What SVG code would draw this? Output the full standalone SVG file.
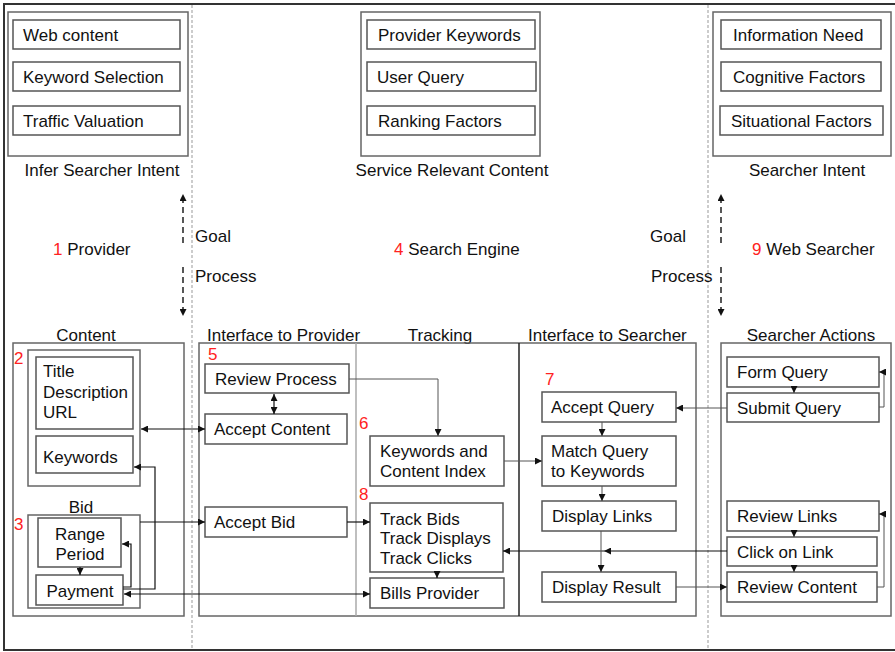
<svg xmlns="http://www.w3.org/2000/svg" width="895" height="652" viewBox="0 0 895 652">
<defs>
<style>
text{font-family:"Liberation Sans",Arial,sans-serif;font-size:17px;fill:#111}
.red{fill:#f22}
.box{fill:#fff;stroke:#555;stroke-width:1.5}
.grp{fill:none;stroke:#666;stroke-width:1.5}
.c{fill:none;stroke:#111;stroke-width:1.2}
.g{fill:none;stroke:#555;stroke-width:1}
.dash{fill:none;stroke:#111;stroke-width:1.4;stroke-dasharray:6,4}
.dot{fill:none;stroke:#999;stroke-width:1;stroke-dasharray:3,2}
.mid{text-anchor:middle}
</style>
<marker id="ah" viewBox="0 0 8 8" refX="8" refY="4" markerWidth="7" markerHeight="7" markerUnits="userSpaceOnUse" orient="auto-start-reverse">
<path d="M0,0 L8,4 L0,8 z" fill="#111"/>
</marker>
</defs>
<rect width="895" height="652" fill="#fff"/>
<rect x="4" y="4" width="900" height="646" fill="none" stroke="#333" stroke-width="2"/>
<line class="dot" x1="192" y1="5" x2="192" y2="650"/>
<line class="dot" x1="708" y1="5" x2="708" y2="650"/>

<g id="provider-goal">
<rect class="grp" x="8" y="12" width="180" height="144"/>
<rect class="box" x="13" y="20" width="167" height="29"/><text x="23" y="41">Web content</text>
<rect class="box" x="13" y="62" width="167" height="29"/><text x="23" y="83">Keyword Selection</text>
<rect class="box" x="13" y="106" width="167" height="29"/><text x="23" y="127">Traffic Valuation</text>
<text class="mid" x="102" y="176">Infer Searcher Intent</text>
</g>
<g id="engine-goal">
<rect class="grp" x="361" y="12" width="179" height="144"/>
<rect class="box" x="367" y="20" width="168" height="29"/><text x="378" y="41">Provider Keywords</text>
<rect class="box" x="367" y="62" width="169" height="29"/><text x="377" y="83">User Query</text>
<rect class="box" x="367" y="106" width="168" height="29"/><text x="378" y="127">Ranking Factors</text>
<text class="mid" x="452" y="176">Service Relevant Content</text>
</g>
<g id="searcher-goal">
<rect class="grp" x="713" y="12" width="178" height="144"/>
<rect class="box" x="721" y="20" width="160" height="29"/><text x="733" y="41">Information Need</text>
<rect class="box" x="721" y="62" width="160" height="29"/><text x="733" y="83">Cognitive Factors</text>
<rect class="box" x="720" y="106" width="163" height="29"/><text x="731" y="127">Situational Factors</text>
<text class="mid" x="807" y="176">Searcher Intent</text>
</g>

<g id="labels">
<text x="53" y="255"><tspan class="red">1</tspan> Provider</text>
<text x="394" y="255"><tspan class="red">4</tspan> Search Engine</text>
<text x="752" y="255"><tspan class="red">9</tspan> Web Searcher</text>
<text x="195" y="242">Goal</text>
<text x="195" y="282">Process</text>
<text x="650" y="242">Goal</text>
<text x="651" y="282">Process</text>
<text class="mid" x="86" y="341">Content</text>
<text x="207" y="341">Interface to Provider</text>
<text class="mid" x="440" y="341">Tracking</text>
<text x="528" y="341">Interface to Searcher</text>
<text class="mid" x="811" y="341">Searcher Actions</text>
</g>

<g id="content">
<rect class="grp" x="13" y="343" width="171" height="273"/>
<rect class="grp" x="28" y="350" width="112" height="136"/>
<text class="red" x="14" y="364">2</text>
<rect class="grp" x="28" y="515" width="112" height="93"/>
<text class="red" x="14" y="530">3</text>
<text class="mid" x="81" y="513">Bid</text>
</g>
<g id="title-desc-url">
<rect class="box" x="36" y="357" width="97" height="72"/>
<text x="43" y="377">Title</text><text x="43" y="398">Description</text><text x="43" y="418">URL</text>
</g>
<g id="keywords">
<rect class="box" x="36" y="436" width="97" height="37"/><text x="43" y="463">Keywords</text>
</g>
<g id="range-period">
<rect class="box" x="38" y="518" width="83" height="49"/>
<text class="mid" x="80" y="540">Range</text><text class="mid" x="80" y="560">Period</text>
</g>
<g id="payment">
<rect class="box" x="36" y="575" width="87" height="30"/><text class="mid" x="80" y="597">Payment</text>
</g>

<g id="engine">
<rect class="grp" x="199" y="343" width="497" height="273"/>
<line x1="356" y1="343" x2="356" y2="616" stroke="#aaa" stroke-width="1.5"/>
<line x1="519" y1="343" x2="519" y2="616" stroke="#222" stroke-width="1.5"/>
<text class="red" x="208" y="360">5</text>
<text class="red" x="359" y="429">6</text>
<text class="red" x="359" y="500">8</text>
<text class="red" x="545" y="385">7</text>
</g>
<g id="review-process"><rect class="box" x="205" y="364" width="144" height="29"/><text x="215" y="385">Review Process</text></g>
<g id="accept-content"><rect class="box" x="205" y="414" width="142" height="30"/><text x="214" y="435">Accept Content</text></g>
<g id="accept-bid"><rect class="box" x="205" y="507" width="142" height="30"/><text x="214" y="528">Accept Bid</text></g>
<g id="keywords-index"><rect class="box" x="370" y="436" width="134" height="50"/><text x="380" y="457">Keywords and</text><text x="380" y="477">Content Index</text></g>
<g id="track"><rect class="box" x="370" y="503" width="133" height="69"/><text x="380" y="525">Track Bids</text><text x="380" y="544">Track Displays</text><text x="380" y="564">Track Clicks</text></g>
<g id="bills-provider"><rect class="box" x="370" y="578" width="134" height="30"/><text x="380" y="599">Bills Provider</text></g>
<g id="accept-query"><rect class="box" x="542" y="392" width="134" height="30"/><text x="551" y="413">Accept Query</text></g>
<g id="match-query"><rect class="box" x="542" y="436" width="134" height="50"/><text x="551" y="457">Match Query</text><text x="551" y="477">to Keywords</text></g>
<g id="display-links"><rect class="box" x="542" y="501" width="134" height="30"/><text x="552" y="522">Display Links</text></g>
<g id="display-result"><rect class="box" x="542" y="572" width="134" height="30"/><text x="552" y="593">Display Result</text></g>

<g id="searcher-actions"><rect class="grp" x="721" y="343" width="170" height="273"/></g>
<g id="form-query"><rect class="box" x="727" y="357" width="152" height="30"/><text x="737" y="378">Form Query</text></g>
<g id="submit-query"><rect class="box" x="727" y="393" width="152" height="29"/><text x="737" y="414">Submit Query</text></g>
<g id="review-links"><rect class="box" x="727" y="501" width="152" height="30"/><text x="737" y="522">Review Links</text></g>
<g id="click-link"><rect class="box" x="727" y="537" width="150" height="29"/><text x="737" y="558">Click on Link</text></g>
<g id="review-content"><rect class="box" x="727" y="572" width="150" height="30"/><text x="737" y="593">Review Content</text></g>

<g id="connectors">
<path class="dash" d="M183,243 V194" marker-end="url(#ah)"/>
<path class="dash" d="M183,267 V316" marker-end="url(#ah)"/>
<path class="dash" d="M721,243 V194" marker-end="url(#ah)"/>
<path class="dash" d="M721,267 V316" marker-end="url(#ah)"/>
<path class="c" d="M141,429 H205" marker-start="url(#ah)" marker-end="url(#ah)"/>
<path class="c" d="M123,587 H131 V544 H122" marker-end="url(#ah)"/>
<path class="c" d="M123,589 H155 V467 H134" marker-end="url(#ah)"/>
<path class="c" d="M80,567 V575" marker-end="url(#ah)"/>
<path class="c" d="M140,522 H205" marker-end="url(#ah)"/>
<path class="c" d="M124,594 H370" marker-start="url(#ah)" marker-end="url(#ah)"/>
<path class="c" d="M274,394 V414" marker-start="url(#ah)" marker-end="url(#ah)"/>
<path class="g" d="M349,379 H438 V436" marker-end="url(#ah)"/>
<path class="c" d="M347,522 H370" marker-end="url(#ah)"/>
<path class="c" d="M437,572 V578" marker-end="url(#ah)"/>
<path class="g" d="M504,461 H542" marker-end="url(#ah)"/>
<path class="c" d="M727,551 H604" marker-end="url(#ah)"/>
<path class="c" d="M604,551 H503" marker-end="url(#ah)"/>
<path class="g" d="M601,531 V572" marker-end="url(#ah)"/>
<path class="g" d="M602,422 V436" marker-end="url(#ah)"/>
<path class="g" d="M602,486 V501" marker-end="url(#ah)"/>
<path class="g" d="M676,587 H727" marker-end="url(#ah)"/>
<path class="g" d="M727,408 H676" marker-end="url(#ah)"/>
<path class="g" d="M794,387 V393" marker-end="url(#ah)"/>
<path class="g" d="M879,407 H884 V372 H879" marker-end="url(#ah)"/>
<path class="g" d="M794,531 V537" marker-end="url(#ah)"/>
<path class="g" d="M794,566 V572" marker-end="url(#ah)"/>
<path class="g" d="M877,587 H884 V514 H879" marker-end="url(#ah)"/>
</g>
</svg>
